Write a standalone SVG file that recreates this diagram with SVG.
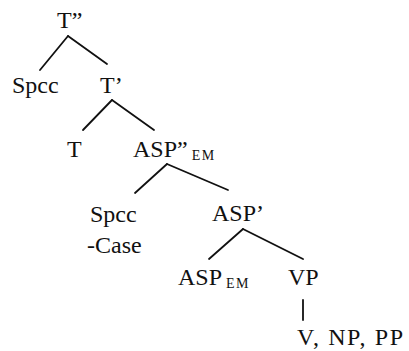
<svg xmlns="http://www.w3.org/2000/svg" width="409" height="351" viewBox="0 0 409 351">
<defs>
<style>
.t{font-family:'Liberation Serif','Times New Roman','DejaVu Serif',serif;font-size:24px;fill:#111}
.sub{font-size:14px;letter-spacing:1.5px}
.e line{stroke:#111;stroke-width:1.8;stroke-linecap:round}
</style>
</defs>
<rect width="409" height="351" fill="#fff"/>
<g class="e" id="connectors">
<line x1="68" y1="36" x2="40" y2="70"/>
<line x1="68" y1="36" x2="107" y2="64"/>
<line x1="112" y1="100" x2="83" y2="130"/>
<line x1="112" y1="100" x2="154" y2="130"/>
<line x1="167" y1="164" x2="135" y2="193"/>
<line x1="167" y1="164" x2="228" y2="190"/>
<line x1="243" y1="229" x2="209" y2="259"/>
<line x1="243" y1="229" x2="303" y2="259"/>
<line x1="303" y1="300" x2="303" y2="320" stroke-width="1.2"/>
</g>
<g id="n1"><text class="t" x="57" y="28">T”</text></g>
<g id="n2"><text class="t" x="12" y="93">Spcc</text></g>
<g id="n3"><text class="t" x="100" y="93">T’</text></g>
<g id="n4"><text class="t" x="67" y="157">T</text></g>
<g id="n5"><text class="t" x="133" y="157">ASP”<tspan class="sub" dx="4" dy="3">EM</tspan></text></g>
<g id="n6"><text class="t" x="90" y="222">Spcc</text><text class="t" x="87" y="253">-Case</text></g>
<g id="n7"><text class="t" x="212" y="221">ASP’</text></g>
<g id="n8"><text class="t" x="178" y="285">ASP<tspan class="sub" dx="4" dy="3">EM</tspan></text></g>
<g id="n9"><text class="t" x="288" y="285">VP</text></g>
<g id="n10"><text class="t" x="297" y="345" textLength="106">V, NP, PP</text></g>
</svg>
